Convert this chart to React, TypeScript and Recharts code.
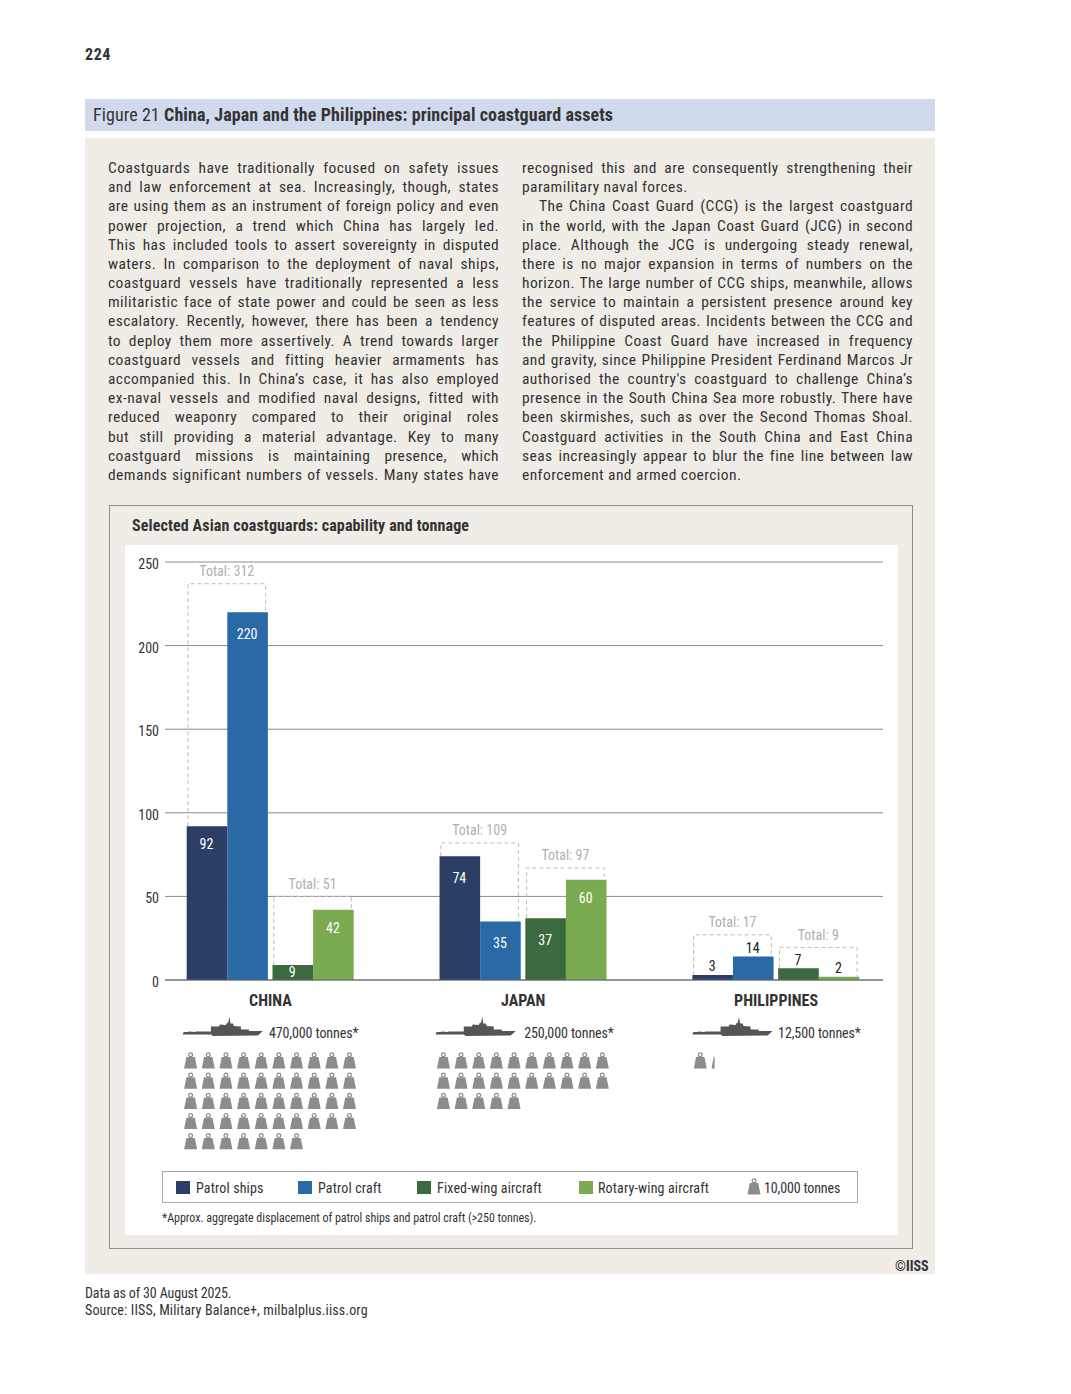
import React from "react";
import { BarChart, Bar, XAxis, YAxis, CartesianGrid, LabelList, Legend, Rectangle } from "recharts";

const countries = ["CHINA", "JAPAN", "PHILIPPINES"];
const patrolShips = [92, 74, 3];
const patrolCraft = [220, 35, 14];
const fixedWing = [9, 37, 7];
const rotaryWing = [42, 60, 2];
const seaTotals = [312, 109, 17];
const airTotals = [51, 97, 9];
const seaBracketTops = [237, 82, 27];
const airBracketTops = [50, 67, 19.5];
const tonnes = [470000, 250000, 12500];
const tonnesLabels = ["470,000 tonnes*", "250,000 tonnes*", "12,500 tonnes*"];
const yTicks = [0, 50, 100, 150, 200, 250];
const seriesNames = ["Patrol ships", "Patrol craft", "Fixed-wing aircraft", "Rotary-wing aircraft"];
const seriesColors = ["#2b3f66", "#2869a6", "#3b6a40", "#7aab50"];
const WEIGHT_UNIT = 10000;

const leftLines = [
  "Coastguards have traditionally focused on safety issues",
  "and law enforcement at sea. Increasingly, though, states",
  "are using them as an instrument of foreign policy and even",
  "power projection, a trend which China has largely led.",
  "This has included tools to assert sovereignty in disputed",
  "waters. In comparison to the deployment of naval ships,",
  "coastguard vessels have traditionally represented a less",
  "militaristic face of state power and could be seen as less",
  "escalatory. Recently, however, there has been a tendency",
  "to deploy them more assertively. A trend towards larger",
  "coastguard vessels and fitting heavier armaments has",
  "accompanied this. In China’s case, it has also employed",
  "ex-naval vessels and modified naval designs, fitted with",
  "reduced weaponry compared to their original roles",
  "but still providing a material advantage. Key to many",
  "coastguard missions is maintaining presence, which",
  "demands significant numbers of vessels. Many states have",
];
const rightLines = [
  "recognised this and are consequently strengthening their",
  "paramilitary naval forces.",
  "The China Coast Guard (CCG) is the largest coastguard",
  "in the world, with the Japan Coast Guard (JCG) in second",
  "place. Although the JCG is undergoing steady renewal,",
  "there is no major expansion in terms of numbers on the",
  "horizon. The large number of CCG ships, meanwhile, allows",
  "the service to maintain a persistent presence around key",
  "features of disputed areas. Incidents between the CCG and",
  "the Philippine Coast Guard have increased in frequency",
  "and gravity, since Philippine President Ferdinand Marcos Jr",
  "authorised the country's coastguard to challenge China’s",
  "presence in the South China Sea more robustly. There have",
  "been  skirmishes, such as over the Second Thomas Shoal.",
  "Coastguard activities in the South China and East China",
  "seas increasingly appear to blur the fine line between law",
  "enforcement and armed coercion.",
];
const unjustified = new Set(["paramilitary naval forces.", "enforcement and armed coercion."]);
const indented = new Set(["The China Coast Guard (CCG) is the largest coastguard"]);
const lowerLabels = new Set([220, 35, 74, 37]);

const FONT = '"Liberation Sans Narrow","Roboto Condensed","Liberation Sans",sans-serif';
const GREY = "#8c8c8c";
const DARK = "#333333";

const data = countries.map((name, i) => ({
  name,
  ships: patrolShips[i],
  craft: patrolCraft[i],
  fixed: fixedWing[i],
  rotary: rotaryWing[i],
  seaTotal: seaTotals[i],
  airTotal: airTotals[i],
  seaTop: seaBracketTops[i],
  airTop: airBracketTops[i],
}));

const SHIFT = 2.3;

function Weight({ x, y }: any) {
  return (
    <g transform={`translate(${x},${y})`} fill={GREY}>
      <circle cx={0} cy={2.3} r={1.9} fill="none" stroke={GREY} strokeWidth={1.2} />
      <path d="M-4.2,4.6 L4.2,4.6 L6.5,16 L-6.5,16 Z" />
    </g>
  );
}

function Ship({ x, y, fill = "#555" }: any) {
  return (
    <path
      transform={`translate(${x},${y})`}
      fill={fill}
      d="M0,17 L1,15.5 L5,15.5 L6,15 L12,15.5 L13,15 L28,15 L28,10 L36,10 L37,8 L43,8.5 L44,6.5 L45,6.5 L46,3 L46.5,0 L47.5,7 L50,7 L51,9.5 L58,10 L58,13 L66,13 L66,14.5 L80,14.5 L75,19 L30,19.5 L28,18 L0,18 Z"
    />
  );
}

function CountryTick({ x, y, index, payload }: any) {
  const i = index ?? countries.indexOf(payload.value);
  const t = tonnes[i];
  const count = t / WEIGHT_UNIT;
  const full = Math.floor(count);
  const frac = count - full;
  const dx = payload.value === "PHILIPPINES" ? 4 : 0;
  const textDx = payload.value === "JAPAN" ? 2.5 : payload.value === "PHILIPPINES" ? 3.5 : 0;
  const items = [];
  const left = x - 79.8 + dx;
  const top = y + 64.5;
  for (let k = 0; k < full; k++) {
    items.push(<Weight key={k} x={left + (k % 10) * 17.65} y={top + Math.floor(k / 10) * 20.2} />);
  }
  const clipId = `frac-${i}`;
  const fx = left + (full % 10) * 17.65;
  const fy = top + Math.floor(full / 10) * 20.2;
  return (
    <g fontFamily={FONT}>
      <text x={x} y={y + 18} textAnchor="middle" fontSize={16} fontWeight={700} fill={DARK}>
        {payload.value}
      </text>
      <Ship x={x - 87.5 + dx} y={y + 28.5} />
      <text x={x - 1.5 + textDx} y={y + 50} fontSize={14} letterSpacing={-0.1} fill={DARK}>
        {tonnesLabels[i]}
      </text>
      {items}
      {frac > 0 && (
        <g>
          <clipPath id={clipId}>
            <rect x={fx - 6.5} y={fy} width={13 * frac} height={17} />
          </clipPath>
          <g clipPath={`url(#${clipId})`}>
            <Weight x={fx} y={fy} />
          </g>
        </g>
      )}
    </g>
  );
}

function makeShape(shift: number, bracket?: { other: string; top: string; total: string }) {
  return function BarShape(p: any) {
    const x = p.x + shift;
    let extra = null;
    if (bracket) {
      const base = p.y + p.height;
      const scale = p.height / p.value;
      const yTop = base - p.payload[bracket.top] * scale;
      const yOther = base - p.payload[bracket.other] * scale;
      const xl = x + 1.3;
      const xr = x + 2 * p.width - 2.3;
      extra = (
        <g>
          <path
            d={`M${xl},${p.y} L${xl},${yTop} L${xr},${yTop} L${xr},${yOther}`}
            fill="none"
            stroke="#bdbdbd"
            strokeWidth={1}
            strokeDasharray="4 3"
          />
          <text x={(xl + xr) / 2} y={yTop - 7.5} textAnchor="middle" fontSize={14} fontFamily={FONT} fill="#b0b0b0">
            {`Total: ${p.payload[bracket.total]}`}
          </text>
        </g>
      );
    }
    return (
      <g>
        {extra}
        <Rectangle x={x} y={p.y} width={p.width} height={p.height} fill={p.fill} />
      </g>
    );
  };
}

function makeLabel(shift: number) {
  return function BarLabel(p: any) {
    const { x, y, width, height, value, index } = p;
    const cx = x + shift + width / 2 - 0.5;
    const outside = countries[index] === "PHILIPPINES";
    const small = height < 18;
    const ty = outside ? y - 3.5 : small ? y + height / 2 + 5 : y + (lowerLabels.has(value) ? 27 : 23);
    return (
      <text x={cx} y={ty} textAnchor="middle" fontSize={14} fontFamily={FONT} fill={outside ? "#222" : "#fff"}>
        {value}
      </text>
    );
  };
}

function LegendBox() {
  const gaps = [196 - 176, 318 - 298, 437 - 417, 598 - 579];
  const lefts = [176, 298, 417, 579];
  return (
    <div style={{ position: "relative", width: 696, height: 32, border: "1px solid #a8a8a8", boxSizing: "border-box", fontFamily: FONT, fontSize: 14, color: DARK }}>
      {seriesNames.map((n, i) => (
        <React.Fragment key={n}>
          <div style={{ position: "absolute", left: lefts[i] - 163, top: 9, width: 14, height: 13, background: seriesColors[i] }} />
          <div style={{ position: "absolute", left: lefts[i] - 163 + gaps[i], top: 8, lineHeight: "17px", whiteSpace: "nowrap", letterSpacing: 0.15 }}>{n}</div>
        </React.Fragment>
      ))}
      <svg style={{ position: "absolute", left: 583, top: 6, overflow: "visible" }} width={16} height={18}>
        <Weight x={8} y={0.5} />
      </svg>
      <div style={{ position: "absolute", left: 601, top: 8, lineHeight: "17px", whiteSpace: "nowrap", letterSpacing: -0.15 }}>10,000 tonnes</div>
    </div>
  );
}

function Column({ lines, left }: { lines: string[]; left: number }) {
  return (
    <>
      {lines.map((l, i) => (
        <div
          key={i}
          style={{
            position: "absolute",
            left: left + (indented.has(l) ? 17 : 0),
            top: 159 + i * 19.18,
            width: 391 - (indented.has(l) ? 17 : 0),
            lineHeight: "19px",
            fontFamily: FONT,
            fontSize: 15.5,
            color: DARK,
            letterSpacing: 0.42,
            textAlign: "justify",
            textAlignLast: unjustified.has(l) ? "left" : "justify",
            whiteSpace: "normal",
          }}
        >
          {l}
        </div>
      ))}
    </>
  );
}

const abs = (left: number, top: number, extra: any = {}) => ({ position: "absolute" as const, left, top, fontFamily: FONT, color: DARK, whiteSpace: "nowrap" as const, ...extra });

export default function App() {
  return (
    <div style={{ position: "absolute", left: 0, top: 0, width: 1071, height: 1394, background: "#fff", overflow: "hidden" }}>
      <div style={abs(85, 46, { fontSize: 16, fontWeight: 700, lineHeight: "18px", letterSpacing: 0.6 })}>224</div>
      <div style={abs(85, 99, { width: 850, height: 32, background: "#d1daed" })} />
      <div style={abs(93, 99, { fontSize: 18, lineHeight: "31px", letterSpacing: 0.09 })}>
        Figure 21 <b>China, Japan and the Philippines: principal coastguard assets</b>
      </div>
      <div style={abs(85, 138, { width: 850, height: 1136, background: "#efede6" })} />
      <Column lines={leftLines} left={108} />
      <Column lines={rightLines} left={522} />
      <div style={abs(109, 505, { width: 804, height: 744, border: "1px solid #8f8f8f", boxSizing: "border-box" })} />
      <div style={abs(132, 517, { fontSize: 16, fontWeight: 700, lineHeight: "18px", letterSpacing: 0.12 })}>Selected Asian coastguards: capability and tonnage</div>
      <div style={abs(125, 545, { width: 773, height: 690, background: "#fff" })}>
        <BarChart
          width={773}
          height={690}
          data={data}
          barSize={40.6}
          barGap={0}
          margin={{ top: 17, right: 15, bottom: 193, left: 0 }}
        >
          <CartesianGrid horizontal vertical={false} stroke="#8a8a8a" strokeWidth={1} />
          <XAxis
            dataKey="name"
            height={30}
            padding={{ left: -21, right: -19.5 }}
            axisLine={{ stroke: "#666" }}
            tickLine={false}
            interval={0}
            tick={<CountryTick />}
          />
          <YAxis
            width={40}
            domain={[0, 250]}
            ticks={yTicks}
            axisLine={false}
            tickLine={false}
            tickMargin={0}
            tick={{ fontSize: 14, fontFamily: FONT, fill: DARK, dy: 2 }}
          />
          <Legend
            content={<LegendBox />}
            wrapperStyle={{ position: "absolute", left: 37, top: 626, width: 696, height: 32, margin: 0 }}
          />
          <Bar dataKey="ships" name={seriesNames[0]} fill={seriesColors[0]} isAnimationActive={false}
            shape={makeShape(-SHIFT, { other: "craft", top: "seaTop", total: "seaTotal" })}>
            <LabelList dataKey="ships" content={makeLabel(-SHIFT)} />
          </Bar>
          <Bar dataKey="craft" name={seriesNames[1]} fill={seriesColors[1]} isAnimationActive={false} shape={makeShape(-SHIFT)}>
            <LabelList dataKey="craft" content={makeLabel(-SHIFT)} />
          </Bar>
          <Bar dataKey="fixed" name={seriesNames[2]} fill={seriesColors[2]} isAnimationActive={false}
            shape={makeShape(SHIFT, { other: "rotary", top: "airTop", total: "airTotal" })}>
            <LabelList dataKey="fixed" content={makeLabel(SHIFT)} />
          </Bar>
          <Bar dataKey="rotary" name={seriesNames[3]} fill={seriesColors[3]} isAnimationActive={false} shape={makeShape(SHIFT)}>
            <LabelList dataKey="rotary" content={makeLabel(SHIFT)} />
          </Bar>
        </BarChart>
      </div>
      <div style={abs(162, 1211, { fontSize: 12, lineHeight: "14px", letterSpacing: -0.03 })}>*Approx. aggregate displacement of patrol ships and patrol craft (&gt;250 tonnes).</div>
      <div style={abs(895, 1259, { fontSize: 14, fontWeight: 700, lineHeight: "15px" })}>©IISS</div>
      <div style={abs(85, 1285, { fontSize: 14, lineHeight: "16.5px", letterSpacing: 0.14 })}>
        <span style={{ letterSpacing: -0.15 }}>Data as of 30 August 2025.</span>
        <br />
        Source: IISS, Military Balance+, milbalplus.iiss.org
      </div>
    </div>
  );
}
